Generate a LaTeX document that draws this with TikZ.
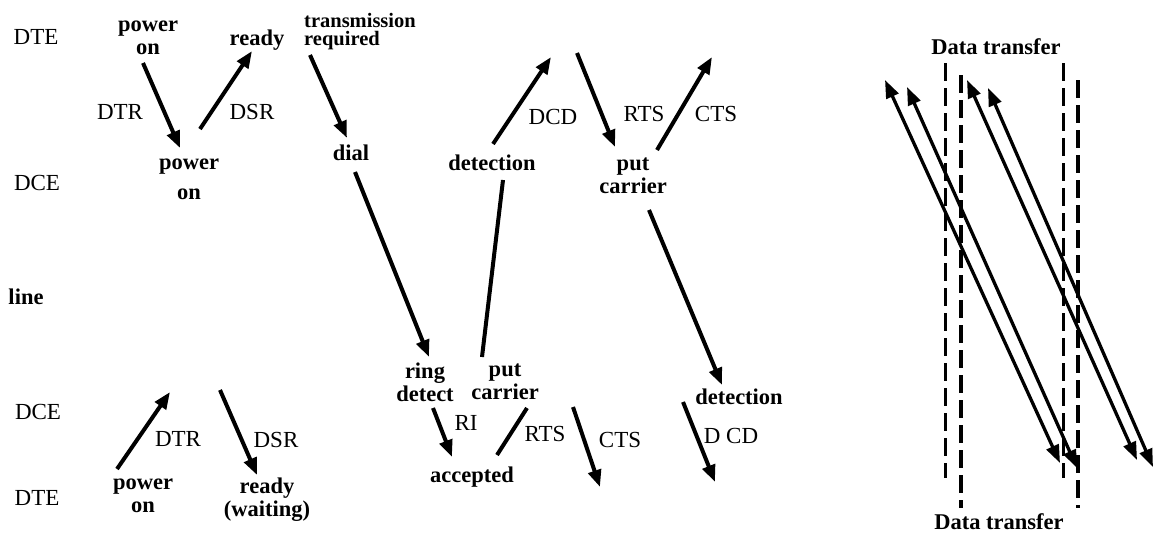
\documentclass[tikz,border=0pt]{standalone}
\usepackage{fontspec}
\setmainfont{Liberation Serif}
\usetikzlibrary{arrows.meta}
\begin{document}
\begin{tikzpicture}[x=1pt,y=-1pt,
  lab/.style={inner sep=0pt,font=\fontsize{23}{23}\selectfont},
  st/.style={inner sep=0pt,align=center,font=\fontsize{22.5}{23}\selectfont\bfseries},
  arr/.style={line width=4pt,-{Triangle[length=17pt,width=13pt]}},
  ln/.style={line width=4pt},
  darr/.style={line width=3.3pt,{Triangle[length=18pt,width=13pt]}-{Triangle[length=18pt,width=13pt]}},
  dsh/.style={line width=3pt,dash pattern=on 18pt off 7pt},
  dshb/.style={line width=3.8pt,dash pattern=on 18pt off 7pt}]
\useasboundingbox (0,0) rectangle (1156,533);
\fill[white] (0,0) rectangle (1156,533);
% row labels
\node[lab] (dte1) at (36,37) {DTE};
\node[lab] (dce1) at (37,183) {DCE};
\node[st] (line) at (26,297) {line};
\node[lab] (dce2) at (38,412) {DCE};
\node[lab] (dte2) at (37,498) {DTE};
% states
\node[st] (pon1) at (148,38) {power\\on};
\node[st] (rdy1) at (257,40) {ready};
\node[st,align=left,font=\fontsize{20.5}{18}\selectfont\bfseries] (trq) at (360,32) {transmission\\required};
\node[st,font=\fontsize{22.5}{30}\selectfont\bfseries] (pon2) at (189,179) {power\\on};
\node[st] (dial) at (351,153) {dial};
\node[st] (det1) at (492,163) {detection};
\node[st] (pc1) at (633,176) {put\\carrier};
\node[st] (ring) at (425,382) {ring\\detect};
\node[st] (pc2) at (505,382) {put\\carrier};
\node[st] (acc) at (472,477) {accepted};
\node[st] (det2) at (739,397) {detection};
\node[st] (pon3) at (143,496) {power\\on};
\node[st] (rdy2) at (267,500) {ready\\(waiting)};
\node[st] (dt1) at (996,47) {Data transfer};
\node[st] (dt2) at (999,522) {Data transfer};
% signal labels
\node[lab] (dtr1) at (120,112) {DTR};
\node[lab] (dsr1) at (252,112) {DSR};
\node[lab] (dcd1) at (553,117) {DCD};
\node[lab] (rts1) at (644,114) {RTS};
\node[lab] (cts1) at (716,114) {CTS};
\node[lab] (ri) at (466,423) {RI};
\node[lab] (rts2) at (545,434) {RTS};
\node[lab] (cts2) at (620,440) {CTS};
\node[lab] (dcd2) at (731,436) {D CD};
\node[lab] (dtr2) at (178,439) {DTR};
\node[lab] (dsr2) at (276,440) {DSR};
% coordinates
\coordinate (a1s) at (143,63);  \coordinate (a1e) at (180,148);
\coordinate (a2s) at (200,129); \coordinate (a2e) at (252,51);
\coordinate (a3s) at (310,55);  \coordinate (a3e) at (347,138);
\coordinate (a4s) at (355,172); \coordinate (a4e) at (429,357);
\coordinate (a5s) at (482,357); \coordinate (a5e) at (503,180);
\coordinate (a6s) at (493,144); \coordinate (a6e) at (551,57);
\coordinate (a7s) at (577,53);  \coordinate (a7e) at (615,147);
\coordinate (a8s) at (657,150); \coordinate (a8e) at (712,57);
\coordinate (a9s) at (649,210); \coordinate (a9e) at (722,385);
\coordinate (a10s) at (433,408); \coordinate (a10e) at (452,457);
\coordinate (a11s) at (527,408); \coordinate (a11e) at (497,455);
\coordinate (a12s) at (573,407); \coordinate (a12e) at (600,487);
\coordinate (a13s) at (683,402); \coordinate (a13e) at (715,482);
\coordinate (a14s) at (117,469); \coordinate (a14e) at (170,392);
\coordinate (a15s) at (220,390); \coordinate (a15e) at (257,475);
% arrows
\draw[arr] (a1s) -- (a1e);
\draw[arr] (a2s) -- (a2e);
\draw[arr] (a3s) -- (a3e);
\draw[arr] (a4s) -- (a4e);
\draw[ln]  (a5s) -- (a5e);
\draw[arr] (a6s) -- (a6e);
\draw[arr] (a7s) -- (a7e);
\draw[arr] (a8s) -- (a8e);
\draw[arr] (a9s) -- (a9e);
\draw[arr] (a10s) -- (a10e);
\draw[ln]  (a11s) -- (a11e);
\draw[arr] (a12s) -- (a12e);
\draw[arr] (a13s) -- (a13e);
\draw[arr] (a14s) -- (a14e);
\draw[arr] (a15s) -- (a15e);
% data transfer
\coordinate (d1t) at (945,63);  \coordinate (d1b) at (945,478);
\coordinate (d2t) at (961,75);  \coordinate (d2b) at (961,508);
\coordinate (d3t) at (1063,63); \coordinate (d3b) at (1063,478);
\coordinate (d4t) at (1078,80); \coordinate (d4b) at (1078,508);
\draw[dsh]  (d1t) -- (d1b);
\draw[dshb] (d2t) -- (d2b);
\draw[dsh]  (d3t) -- (d3b);
\draw[dshb] (d4t) -- (d4b);
\coordinate (t1a) at (885,80);  \coordinate (t1b) at (1060,463);
\coordinate (t2a) at (907,87);  \coordinate (t2b) at (1077,468);
\coordinate (t3a) at (967,80);  \coordinate (t3b) at (1137,460);
\coordinate (t4a) at (988,88);  \coordinate (t4b) at (1153,467);
\draw[darr] (t1a) -- (t1b);
\draw[darr] (t2a) -- (t2b);
\draw[darr] (t3a) -- (t3b);
\draw[darr] (t4a) -- (t4b);
\end{tikzpicture}
\end{document}
